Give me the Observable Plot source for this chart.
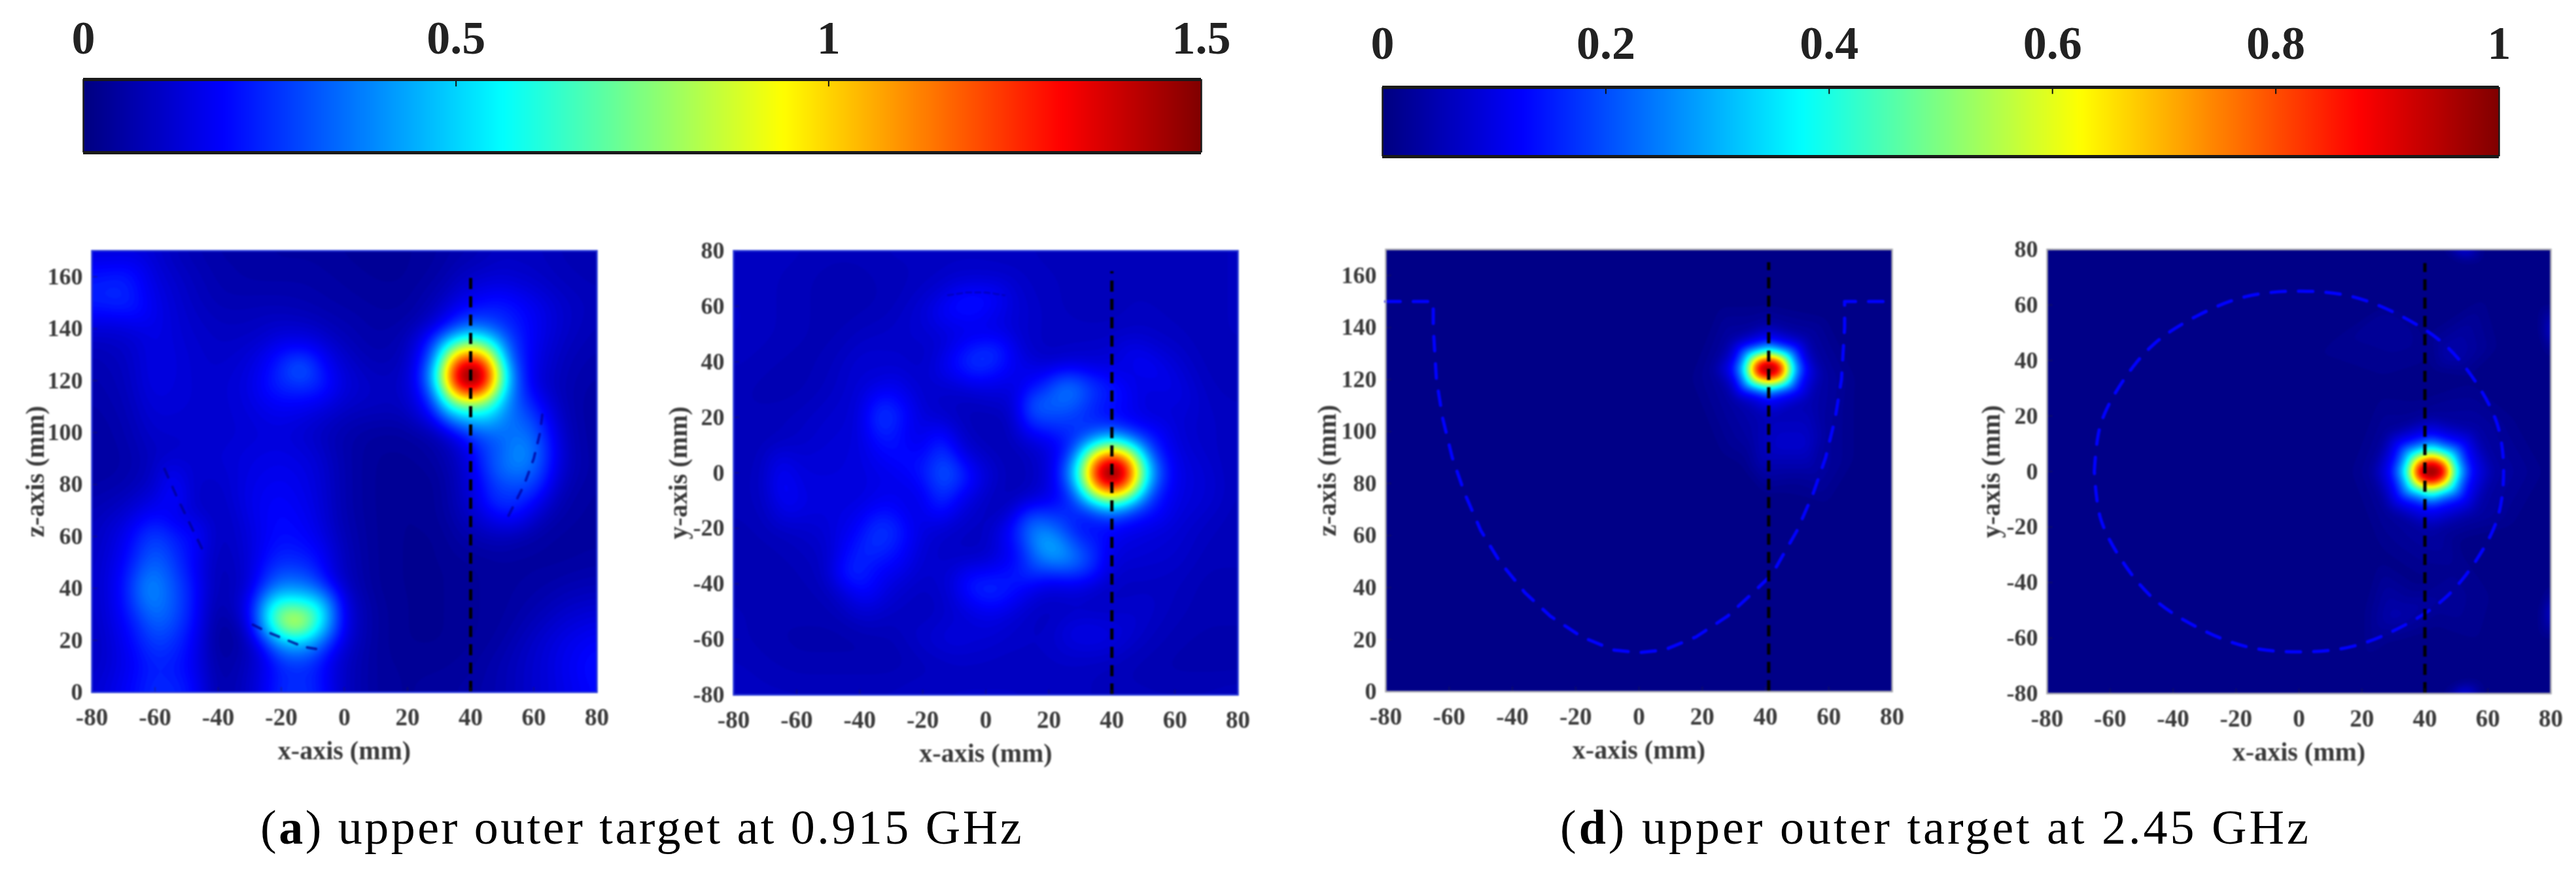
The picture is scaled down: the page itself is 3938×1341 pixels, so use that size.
<!DOCTYPE html>
<html><head><meta charset="utf-8">
<script src="https://cdn.jsdelivr.net/npm/d3@7"></script>
<script src="https://cdn.jsdelivr.net/npm/@observablehq/plot@0.6"></script>
<style>
html,body{margin:0;padding:0;background:#fff;width:3938px;height:1341px;overflow:hidden}
#root{position:relative;width:3938px;height:1341px}
.p{position:absolute}
.p svg{overflow:visible;display:block}
.cap{position:absolute;font-family:"Liberation Serif",serif;color:#000;white-space:nowrap;line-height:1}
</style></head><body><div id="root"></div>
<script>
// axes
const gridX=[-80,-70,-60,-50,-40,-30,-20,-10,0,10,20,30,40,50,60,70,80];
const xTicks=[-80,-60,-40,-20,0,20,40,60,80];
const zTicks=[0,20,40,60,80,100,120,140,160];
const yTicks=[-80,-60,-40,-20,0,20,40,60,80];
const barTicksA=[0,0.5,1,1.5];
const barTicksD=[0,0.2,0.4,0.6,0.8,1];
const captionA=["a"," upper outer target at 0.915 GHz"];
const captionD=["d"," upper outer target at 2.45 GHz"];

// panel (a) x-z, rows z=170..0, values x100
const gridZ_a=[170,160,150,140,130,120,110,100,90,80,70,60,50,40,30,20,10,0];
const valsA_xz=[
[13,13,12,8,6,6,5,5,4,4,4,5,7,10,10,8,8],
[22,24,14,10,7,6,6,6,5,4,4,6,11,13,11,9,8],
[24,26,16,11,8,8,8,7,6,5,5,9,18,22,17,11,9],
[13,13,16,12,10,10,12,11,8,6,7,16,34,26,18,11,8],
[8,10,16,13,11,13,22,22,11,7,9,38,110,38,16,9,7],
[7,9,16,13,12,15,26,28,14,10,11,60,150,60,14,8,6],
[6,8,14,13,12,14,18,16,11,10,10,28,52,36,24,8,5],
[5,7,12,12,12,13,14,11,7,5,5,8,26,34,34,9,5],
[5,6,10,12,13,15,16,14,7,4,4,6,14,30,38,10,5],
[6,7,11,12,11,16,18,15,7,4,3,4,13,28,30,8,5],
[8,11,18,13,9,16,20,16,7,4,3,4,11,22,15,6,5],
[9,16,30,20,9,14,21,18,8,4,3,3,7,9,6,5,5],
[10,18,36,22,8,13,26,23,9,4,3,3,4,5,5,5,6],
[10,20,40,26,7,12,40,36,10,4,3,3,4,5,6,8,9],
[10,19,38,26,4,16,84,76,14,5,3,3,4,5,8,12,14],
[9,17,30,22,3,8,48,45,13,5,3,3,4,6,11,16,19],
[10,16,24,20,5,10,24,24,10,5,4,4,5,8,12,17,22],
[12,18,26,24,6,11,26,26,10,5,4,5,6,8,12,16,20]];
// extra samples around the focus and the bright lobes [x,z,v x100]
const peakA_xz=[[40,122,160],[35,122,150],[45,122,150],[40,127,150],[40,117,150],[36,126,150],[44,126,150],[36,118,150],[44,118,150],
[32,122,106],[48,122,106],[40,132,106],[40,112,106],[34,129,106],[46,129,106],[34,115,106],[46,115,106],
[29,122,60],[51,122,60],[40,137,60],[40,107,60],[32,133,60],[48,133,60],[32,111,60],[48,111,60],
[25,122,26],[55,122,28],[40,142,32],[27,133,25],[53,133,28],[28,109,22],[53,109,36],
[-16,27,108],[-12,27,94],[-20,29,90],[-13,125,40],[-62,40,44],
[55,92,44],[50,85,38],[58,100,36],[48,75,30],[52,70,25],[45,92,30],[48,145,26],[42,146,24],
[-52,75,24],[-47,62,20],[-55,85,20]];

// panel (a) x-y, rows y=80..-80
const gridY=[80,70,60,50,40,30,20,10,0,-10,-20,-30,-40,-50,-60,-70,-80];
const valsA_xy=[
[10,10,10,9,9,10,10,10,10,10,9,9,9,9,9,9,10],
[10,10,9,8,8,9,10,12,12,11,10,9,9,9,9,9,10],
[11,10,9,8,8,9,13,20,19,13,10,9,9,10,9,9,10],
[11,10,9,8,10,11,12,14,15,12,10,10,10,11,10,9,10],
[10,9,8,9,13,12,10,21,27,16,10,12,13,17,13,9,9],
[9,8,8,10,13,18,11,11,14,13,24,36,24,14,16,10,9],
[9,9,10,12,13,27,13,10,8,10,30,26,18,14,13,11,10],
[9,9,11,13,14,22,15,14,9,9,14,30,70,30,14,11,10],
[9,10,14,14,14,16,22,30,14,8,12,60,155,60,16,13,9],
[9,10,16,14,14,18,15,17,10,9,15,30,70,30,15,13,9],
[8,9,11,13,18,27,14,11,9,24,36,18,18,15,13,10,9],
[8,8,9,11,20,22,12,10,10,18,42,32,14,13,12,9,9],
[8,8,8,10,24,14,10,14,24,22,14,16,10,10,10,8,8],
[9,8,8,8,13,10,9,12,17,13,9,10,11,12,9,8,8],
[9,8,7,7,7,8,12,15,13,11,11,15,15,10,8,7,7],
[10,9,8,8,8,8,9,10,10,10,10,10,9,8,7,7,7],
[11,10,10,10,10,10,11,11,11,11,10,10,9,9,9,9,10]];
const peakA_xy=[[40,0,160],[35,0,150],[45,0,150],[40,5,150],[40,-5,150],[36.5,3.5,150],[43.5,3.5,150],[36.5,-3.5,150],[43.5,-3.5,150],
[32,0,106],[48,0,106],[40,8,106],[40,-8,106],[34,6,106],[46,6,106],[34,-6,106],[46,-6,106],
[28,0,60],[52,0,60],[40,12,60],[40,-12,60],[31.5,8.5,60],[48.5,8.5,60],[31.5,-8.5,60],[48.5,-8.5,60],
[24,0,24],[56,0,26],[40,16,26],[40,-16,26],[28,12,24],[52,12,24],[28,-12,24],[52,-12,24],
[13,-15,32],[16,-22,44],[20,-27,52],[26,-31,44],[32,-33,32],
[13,22,32],[17,27,40],[23,30,42],[29,32,36],[35,31,26],
[-13,0,36],[-13,8,30],[-13,-8,30],[-33,27,24],[-34,13,24],[-35,20,30],[-35,-22,29],[-45,-37,26],[-40,-30,25],
[0,42,30],[-5,37,26],[5,47,24],[0,-42,28],[-5,-40,25],[5,-45,24],[-5,62,24],[-10,60,22],[0,64,22],
[-65,-5,22],[-62,-15,18],[-66,5,18],[50,40,19],[45,45,17],[30,-58,18],[-10,-60,17]];

// panel (d) samples [x,z,v x100]
const ptsD_xz=[[-80,170,1],[-40,170,1],[0,170,1],[40,170,1],[80,170,1],[-80,85,1],[-40,85,1],[0,85,1],[80,85,1],[-80,0,1],[-40,0,1],[0,0,1],[40,0,1],[80,0,1],
[25,150,1],[40,150,1],[60,145,1],[70,120,1],[70,90,1],[60,70,1],[40,75,1],[25,90,1],[15,120,1],
[41,124,100],[37.5,124,96],[44.5,124,96],[41,127,96],[41,121.5,96],
[35,124,62],[47,124,62],[41,129,62],[41,119,62],[36.5,128,62],[45.5,128,62],[36.5,120,62],[45.5,120,62],
[33,124,35],[49,124,35],[41,131.5,37],[41,116.5,37],[35,129.5,37],[47,129.5,37],[35,118.5,37],[47,118.5,37],
[29,124,12],[53,124,12],[41,135,14],[41,113,14],[32,132,14],[50,132,14],[32,116,14],[50,116,14],
[23,124,3],[58,122,4],[41,141,4],[41,106,6],[29,135,4],[53,136,4],[30,112,4],[54,112,5],
[45,95,8],[52,95,8],[40,90,6],[55,85,4],[35,100,4],[60,100,3],[50,80,2],[33,85,1]];
// panel (d) x-y samples
const ptsD_xy=[[-80,80,1],[-40,80,1],[0,80,1],[30,80,1],[46,80,1],[52,80,11],[58,80,1],[80,80,1],[-80,0,1],[-40,0,1],[0,0,1],[80,0,1],[-80,-80,1],[-40,-80,1],[0,-80,1],[30,-80,1],[46,-80,1],[52,-80,12],[58,-80,1],[80,-80,1],
[46,76,1],[52,76,1],[58,76,1],[46,-76,1],[52,-76,1],[58,-76,1],
[80,60,1],[80,50,9],[80,40,1],[77,60,1],[77,50,1],[77,40,1],[80,-40,1],[80,-50,9],[80,-60,1],[77,-40,1],[77,-50,1],[77,-60,1],
[70,20,1],[70,-20,1],[15,0,1],[25,30,1],[25,-30,1],[60,65,1],[65,45,1],[65,-45,1],[60,-65,1],[40,70,1],[20,70,1],[20,-70,1],[40,-70,1],[0,40,1],[0,-40,1],
[24,58,1],[30,60,1],[33,52,3],[26,55,3],[40,50,1],[48,42,5],[55,34,1],[42,36,1],[40,28,1],
[20,-50,1],[25,-56,3],[30,-52,5],[45,-45,3],[50,-35,2],[42,-58,1],[30,-62,1],[38,-40,1],[52,-25,1],
[42,0,100],[38,0,97],[46,0,97],[42,3,97],[42,-3,97],
[36,0,66],[48,0,66],[42,5.5,66],[42,-5.5,66],[37.5,4,66],[46.5,4,66],[37.5,-4,66],[46.5,-4,66],
[33.5,0,37],[50.5,0,37],[42,8.5,37],[42,-8.5,37],[35.5,6,37],[48.5,6,37],[35.5,-6,37],[48.5,-6,37],
[29,0,13],[55,0,13],[42,13,14],[42,-13,14],[32,9.5,14],[52,9.5,14],[32,-9.5,14],[52,-9.5,14],
[23,0,3],[62,0,4],[42,20,3],[42,-21,4],[28,14,3],[56,15,4],[28,-14,3],[56,-15,4]];

// outlines [x,z]
const outlineD_xz=[[-80,150],[-65,150],[-65,140],[-64,120],[-62,105],[-59,90],[-55,76],[-50,62],[-44,50],[-36,38],[-28,29],[-18,21],[-8,16],[0,15],[8,16],[18,21],[28,29],[36,38],[42,45],[50,62],[55,76],[59,90],[62,105],[64,120],[65,140],[65,150],[80,150]];
const outlineD_xy=[[-65,0],[-63,17],[-56,32.5],[-46,46],[-32.5,56],[-17,63],[0,65],[17,63],[32.5,56],[46,46],[56,32.5],[63,17],[65,0],[63,-17],[56,-32.5],[46,-46],[32.5,-56],[17,-63],[0,-65],[-17,-63],[-32.5,-56],[-46,-46],[-56,-32.5],[-63,-17],[-65,0]];
const arcA1=[[-57,86],[-53,75],[-49,65],[-45,55]];
const arcA2=[[52,68],[57,80],[60,90],[62,100],[63,110]];
const arcA3=[[-29,26],[-24,23],[-18,20],[-13,17.5],[-8,16.5]];
const arcA4=[[-12,64],[-6,65],[0,65],[6,64]];

const jetStops=[0,0.125,0.375,0.625,0.875,1];
const jetColors=["#000080","#0000ff","#00ffff","#ffff00","#ff0000","#800000"];

const root=document.getElementById("root");
const serif='"Liberation Serif",serif';
const colorScale=m=>({type:"linear",domain:jetStops.map(s=>s*m),range:jetColors,interpolate:"rgb",clamp:true});
const gridPts=(vals,ys,extra)=>{const a=[];vals.forEach((r,j)=>r.forEach((v,i)=>a.push({x:gridX[i],y:ys[j],v:v/100})));extra.forEach(e=>a.push({x:e[0],y:e[1],v:e[2]/100}));return a;};
const listPts=l=>l.map(e=>({x:e[0],y:e[1],v:e[2]/100}));

function panel(o){
  const ml=120,mr=50,mt=6,mb=130,w=o.x2-o.x1,h=o.y2-o.y1;
  const ticksY=o.yTicks;
  const svg=Plot.plot({width:w+ml+mr,height:h+mt+mb,marginLeft:ml,marginRight:mr,marginTop:mt,marginBottom:mb,
    style:{fontFamily:serif,fontWeight:"bold",background:"transparent",filter:"blur(0.9px)",overflow:"visible",maxWidth:"none"},
    x:{domain:[-80,80]},y:{domain:o.yDomain},color:colorScale(o.m),
    marks:[
      Plot.contour(o.pts,{x:"x",y:"y",value:"v",fill:"value",interpolate:"barycentric",pixelSize:2,blur:o.blur,thresholds:d3.range(0,o.m,o.m/140),stroke:"none",smooth:true}),
      ...(o.outlines||[]).map(l=>Plot.line(l.data,{x:d=>d[0],y:d=>d[1],stroke:l.stroke,strokeOpacity:l.op??1,strokeWidth:l.sw??5,strokeDasharray:l.dash??"22,20",curve:l.curve??"linear"})),
      Plot.ruleX([o.tx],{y1:o.yDomain[0],y2:o.ty,stroke:"#000",strokeWidth:5,strokeDasharray:"17,11"}),
      Plot.ruleX(xTicks,{y1:o.yDomain[0],y2:o.yDomain[0]+(o.yDomain[1]-o.yDomain[0])*0.011,stroke:"#223",strokeOpacity:.35,strokeWidth:2}),
      Plot.ruleY(ticksY,{x1:-80,x2:-78.2,stroke:"#223",strokeOpacity:.35,strokeWidth:2}),
      Plot.frame({stroke:o.frame,strokeWidth:2.5}),
      Plot.axisX(xTicks,{anchor:"bottom",tickSize:0,tickPadding:24,fontSize:37,fill:"#3a3a3a",tickFormat:String,label:null}),
      Plot.axisY(ticksY,{anchor:"left",tickSize:0,tickPadding:14,fontSize:36,fill:"#3a3a3a",tickFormat:String,label:null}),
      Plot.axisX([],{anchor:"bottom",tickSize:0,fontSize:40,fill:"#3a3a3a",label:"x-axis (mm)",labelAnchor:"center",labelArrow:"none",labelOffset:o.xlo??102}),
      Plot.axisY([],{anchor:"left",tickSize:0,fontSize:40,fill:"#3a3a3a",label:o.ylab,labelAnchor:"center",labelArrow:"none",labelOffset:o.ylo})
    ]});
  const d=document.createElement("div");d.className="p";d.style.left=(o.x1-ml)+"px";d.style.top=(o.y1-mt)+"px";d.appendChild(svg);root.appendChild(d);
}
function colorbar(o){
  const ml=60,mr=60,mt=100,mb=6,w=o.x2-o.x1,h=o.y2-o.y1;
  const svg=Plot.plot({width:w+ml+mr,height:h+mt+mb,marginLeft:ml,marginRight:mr,marginTop:mt,marginBottom:mb,
    style:{fontFamily:serif,fontWeight:"bold",background:"transparent",overflow:"visible",maxWidth:"none"},
    x:{domain:[0,o.m]},y:{domain:[0,1],axis:null},color:colorScale(o.m),
    marks:[
      Plot.raster(d3.range(256).map(i=>(i+.5)/256*o.m),{x1:0,x2:o.m,y1:0,y2:1,width:256,height:1,fill:d=>d}),
      Plot.ruleX(o.ticks.slice(1,-1),{y1:.9,y2:1,stroke:"#111",strokeWidth:2}),
      Plot.ruleY([0,1],{stroke:"#1a1a1a",strokeWidth:5}),
      Plot.ruleX([0,o.m],{stroke:"#1a1a1a",strokeWidth:2.5}),
      Plot.axisX(o.ticks,{anchor:"top",tickSize:0,tickPadding:o.pad,fontSize:72,fill:"#222",tickFormat:String,label:null})
    ]});
  const d=document.createElement("div");d.className="p";d.style.left=(o.x1-ml)+"px";d.style.top=(o.y1-mt)+"px";d.appendChild(svg);root.appendChild(d);
}
colorbar({x1:127,x2:1836,y1:121,y2:233,m:1.5,ticks:barTicksA,pad:40});
colorbar({x1:2113,x2:3820,y1:133,y2:239,m:1,ticks:barTicksD,pad:44});

const faint={sw:4,dash:"14,16",op:.75};
panel({x1:140,x2:912,y1:383,y2:1058,yDomain:[0,170],yTicks:zTicks,m:1.5,pts:gridPts(valsA_xz,gridZ_a,peakA_xz),blur:7,tx:40,ty:162,ylab:"z-axis (mm)",ylo:102,frame:"#2a3ad8",
  outlines:[{data:arcA1,stroke:"#000090",...faint},{data:arcA2,stroke:"#0000a0",...faint},{data:arcA3,stroke:"#000090",...faint}]});
panel({x1:1121,x2:1892,y1:383,y2:1062,yDomain:[-80,80],yTicks:yTicks,m:1.5,pts:gridPts(valsA_xy,gridY,peakA_xy),blur:7,tx:40,ty:72.5,ylab:"y-axis (mm)",ylo:100,frame:"#2a3ad8",
  outlines:[{data:arcA4,stroke:"#0000a0",op:.55,sw:3,dash:"8,6"}]});
panel({x1:2118,x2:2892,y1:381,y2:1057,yDomain:[0,170],yTicks:zTicks,m:1,pts:listPts(ptsD_xz),blur:3,tx:41,ty:165,ylab:"z-axis (mm)",ylo:105,frame:"#a8a8b0",
  outlines:[{data:outlineD_xz,stroke:"#0000ff"}]});
panel({x1:3129,x2:3899,y1:381,y2:1060,yDomain:[-80,80],yTicks:yTicks,m:1,pts:listPts(ptsD_xy),blur:3,tx:40,ty:75,ylab:"y-axis (mm)",ylo:101,frame:"#a8a8b0",
  outlines:[{data:outlineD_xy,stroke:"#0000ff",curve:"catmull-rom"}]});

function caption(parts,x,base,fs,ls){
  const c=document.createElement("div");c.className="cap";c.style.left=x+"px";c.style.top=(base-fs*0.891)+"px";c.style.fontSize=fs+"px";c.style.letterSpacing=ls+"px";
  const b=document.createElement("b");b.textContent=parts[0];
  c.append("(",b,")",parts[1]);root.appendChild(c);
}
caption(captionA,398,1294,74,3.5);
caption(captionD,2385,1294,74,4);
</script></body></html>
